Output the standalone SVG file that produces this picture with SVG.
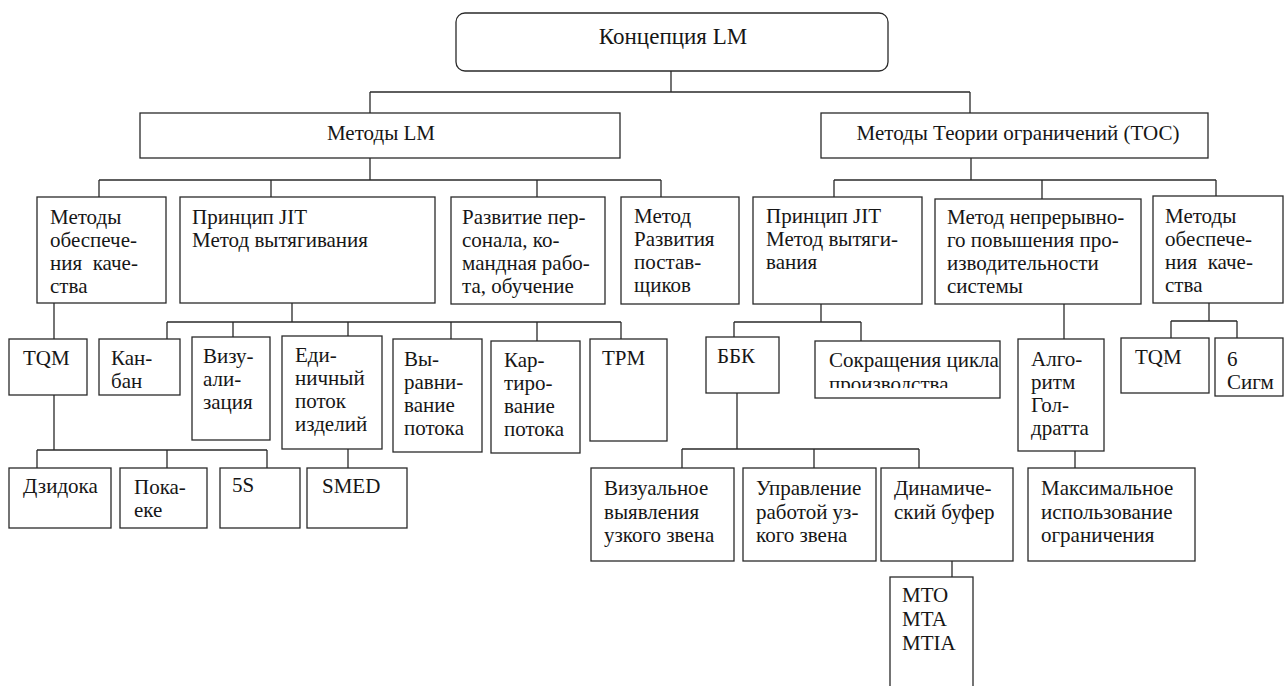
<svg xmlns="http://www.w3.org/2000/svg" width="1285" height="686" viewBox="0 0 1285 686">
<style>
.b{fill:#fff;stroke:#2a2a2a;stroke-width:1.3}
.t{font-family:'Liberation Serif','Times New Roman',serif;font-size:21px;fill:#161616;white-space:pre}
.c{fill:none;stroke:#2a2a2a;stroke-width:1.3}
</style>
<defs>
<clipPath id="clipSokr"><rect x="815" y="341" width="185" height="47"/></clipPath>
</defs>
<rect width="1285" height="686" fill="#fff"/>
<g id="connectors" class="c">
<path d="M671,71V92M370,92H970M370,92V113M970,92V113"/>
<path d="M370,158V180M99,180H661M99,180V197M271,180V197M537,180V197M661,180V197"/>
<path d="M971,158V180M834,180H1216M834,180V197M1042,180V199M1216,180V196"/>
<path d="M54,303V339"/>
<path d="M292,303V322M167,322H621M167,322V339M233,322V337M348,322V336M451,322V339M537,322V341M621,322V339"/>
<path d="M54,395V450M37,450H267M37,450V468M167,450V468M267,450V468"/>
<path d="M348,449V468"/>
<path d="M821,304V322M734,322H861M734,322V337M861,322V341"/>
<path d="M1064,304V339"/>
<path d="M1209,303V321M1171,321H1237M1171,321V338M1237,321V338"/>
<path d="M737,393V449M682,449H919M682,449V468M814,449V468M919,449V468"/>
<path d="M952,561V577"/>
<path d="M1075,451V468"/>
</g>
<g id="n-root"><rect class="b" x="456" y="13" width="432" height="58" rx="9"/><text class="t" x="673" y="44" text-anchor="middle" style="font-size:23px">Концепция LM</text></g>
<g id="n-lm"><rect class="b" x="140" y="113" width="480" height="45"/><text class="t" x="381" y="140" text-anchor="middle">Методы LM</text></g>
<g id="n-toc"><rect class="b" x="821" y="113" width="387" height="45"/><text class="t" x="1018" y="140" text-anchor="middle">Методы Теории ограничений (ТОС)</text></g>
<g id="n-qual1"><rect class="b" x="37" y="197" width="129" height="106"/><text class="t" y="224"><tspan x="50">Методы</tspan><tspan x="50" dy="23">обеспече-</tspan><tspan x="50" dy="23">ния  каче-</tspan><tspan x="50" dy="23">ства</tspan></text></g>
<g id="n-jit1"><rect class="b" x="180" y="197" width="255" height="106"/><text class="t" y="224"><tspan x="192">Принцип JIT</tspan><tspan x="192" dy="23">Метод вытягивания</tspan></text></g>
<g id="n-pers"><rect class="b" x="451" y="197" width="154" height="107"/><text class="t" y="224"><tspan x="462">Развитие пер-</tspan><tspan x="462" dy="23">сонала, ко-</tspan><tspan x="462" dy="23">мандная рабо-</tspan><tspan x="462" dy="23">та, обучение</tspan></text></g>
<g id="n-supp"><rect class="b" x="621" y="197" width="118" height="107"/><text class="t" y="223"><tspan x="634">Метод</tspan><tspan x="634" dy="23">Развития</tspan><tspan x="634" dy="23">постав-</tspan><tspan x="634" dy="23">щиков</tspan></text></g>
<g id="n-jit2"><rect class="b" x="753" y="197" width="169" height="107"/><text class="t" y="223"><tspan x="766">Принцип JIT</tspan><tspan x="766" dy="23">Метод вытяги-</tspan><tspan x="766" dy="23">вания</tspan></text></g>
<g id="n-cont"><rect class="b" x="935" y="199" width="206" height="105"/><text class="t" y="224"><tspan x="947">Метод непрерывно-</tspan><tspan x="947" dy="23">го повышения про-</tspan><tspan x="947" dy="23">изводительности</tspan><tspan x="947" dy="23">системы</tspan></text></g>
<g id="n-qual2"><rect class="b" x="1153" y="196" width="130" height="107"/><text class="t" y="223"><tspan x="1165">Методы</tspan><tspan x="1165" dy="23">обеспече-</tspan><tspan x="1165" dy="23">ния  каче-</tspan><tspan x="1165" dy="23">ства</tspan></text></g>
<g id="n-tqm1"><rect class="b" x="9" y="339" width="78" height="56"/><text class="t" x="23" y="365">TQM</text></g>
<g id="n-kanban"><rect class="b" x="99" y="339" width="81" height="56"/><text class="t" y="365"><tspan x="111">Кан-</tspan><tspan x="111" dy="23">бан</tspan></text></g>
<g id="n-vis"><rect class="b" x="192" y="337" width="78" height="103"/><text class="t" y="363"><tspan x="203">Визу-</tspan><tspan x="203" dy="23">али-</tspan><tspan x="203" dy="23">зация</tspan></text></g>
<g id="n-single"><rect class="b" x="282" y="336" width="100" height="113"/><text class="t" y="362"><tspan x="295">Еди-</tspan><tspan x="295" dy="23">ничный</tspan><tspan x="295" dy="23">поток</tspan><tspan x="295" dy="23">изделий</tspan></text></g>
<g id="n-level"><rect class="b" x="393" y="339" width="89" height="113"/><text class="t" y="366"><tspan x="404">Вы-</tspan><tspan x="404" dy="23">равни-</tspan><tspan x="404" dy="23">вание</tspan><tspan x="404" dy="23">потока</tspan></text></g>
<g id="n-map"><rect class="b" x="491" y="341" width="89" height="112"/><text class="t" y="367"><tspan x="504">Кар-</tspan><tspan x="504" dy="23">тиро-</tspan><tspan x="504" dy="23">вание</tspan><tspan x="504" dy="23">потока</tspan></text></g>
<g id="n-tpm"><rect class="b" x="590" y="339" width="77" height="102"/><text class="t" x="602" y="365">TPM</text></g>
<g id="n-bbk"><rect class="b" x="706" y="337" width="73" height="56"/><text class="t" x="717" y="363">ББК</text></g>
<g id="n-cycle"><rect class="b" x="815" y="341" width="185" height="57"/><text class="t" y="367" clip-path="url(#clipSokr)"><tspan x="829">Сокращения цикла</tspan><tspan x="829" dy="24">производства</tspan></text></g>
<g id="n-gold"><rect class="b" x="1018" y="339" width="86" height="112"/><text class="t" y="366"><tspan x="1031">Алго-</tspan><tspan x="1031" dy="23">ритм</tspan><tspan x="1031" dy="23">Гол-</tspan><tspan x="1031" dy="23">дратта</tspan></text></g>
<g id="n-tqm2"><rect class="b" x="1121" y="338" width="88" height="55"/><text class="t" x="1135" y="364">TQM</text></g>
<g id="n-6s"><rect class="b" x="1215" y="338" width="68" height="58"/><text class="t" y="366"><tspan x="1227">6</tspan><tspan x="1227" dy="23">Сигм</tspan></text></g>
<g id="n-jidoka"><rect class="b" x="9" y="468" width="102" height="60"/><text class="t" x="23" y="493">Дзидока</text></g>
<g id="n-poka"><rect class="b" x="120" y="468" width="87" height="60"/><text class="t" y="494"><tspan x="134">Пока-</tspan><tspan x="134" dy="23">еке</tspan></text></g>
<g id="n-5s"><rect class="b" x="220" y="468" width="80" height="60"/><text class="t" x="232" y="492">5S</text></g>
<g id="n-smed"><rect class="b" x="307" y="468" width="100" height="60"/><text class="t" x="322" y="493">SMED</text></g>
<g id="n-visual"><rect class="b" x="591" y="468" width="143" height="93"/><text class="t" y="495"><tspan x="604">Визуальное</tspan><tspan x="604" dy="23.5">выявления</tspan><tspan x="604" dy="23.5">узкого звена</tspan></text></g>
<g id="n-manage"><rect class="b" x="743" y="468" width="133" height="93"/><text class="t" y="495"><tspan x="756">Управление</tspan><tspan x="756" dy="23.5">работой уз-</tspan><tspan x="756" dy="23.5">кого звена</tspan></text></g>
<g id="n-buffer"><rect class="b" x="881" y="468" width="132" height="93"/><text class="t" y="495"><tspan x="894">Динамиче-</tspan><tspan x="894" dy="23.5">ский буфер</tspan></text></g>
<g id="n-max"><rect class="b" x="1028" y="468" width="167" height="93"/><text class="t" y="495"><tspan x="1041">Максимальное</tspan><tspan x="1041" dy="23.5">использование</tspan><tspan x="1041" dy="23.5">ограничения</tspan></text></g>
<g id="n-mto"><rect class="b" x="890" y="577" width="83" height="130"/><text class="t" y="602"><tspan x="902">MTO</tspan><tspan x="902" dy="24">MTA</tspan><tspan x="902" dy="24">MTIA</tspan></text></g>
</svg>
